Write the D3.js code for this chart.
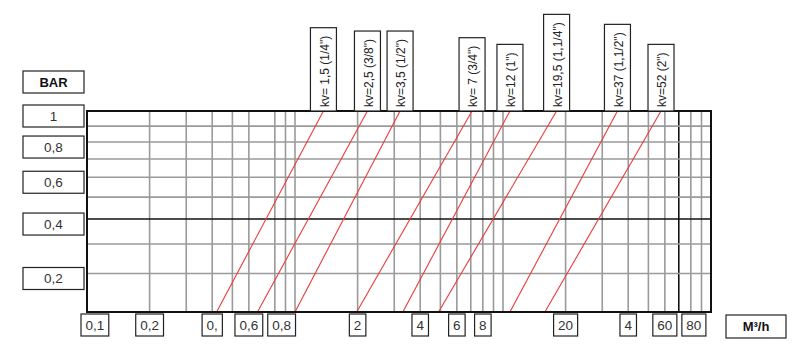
<!DOCTYPE html>
<html>
<head>
<meta charset="utf-8">
<script src="https://cdn.jsdelivr.net/npm/d3@7"></script>
<style>
  html, body { margin: 0; padding: 0; background: #fff; }
  svg { display: block; font-family: Arial, "Liberation Sans", sans-serif; }
  .grid { stroke: #9a9a9a; stroke-width: 1.6; }
  .grid-dark { stroke: #111; stroke-width: 1.6; }
  .box { fill: #fff; stroke: #222; stroke-width: 1.2; }
  .tick-lbl { font-size: 13.5px; fill: #333; }
  .kv-lbl { font-size: 12px; fill: #222; }
</style>
</head>
<body>
<svg id="chart" width="800" height="356"></svg>
<script>
// ── Data ──────────────────────────────────────────────────────────────
// flow (m3/h) grid values and the darker one
const xGrid     = [0.2, 0.3, 0.4, 0.5, 0.6, 0.8, 0.9, 1, 2, 3, 4, 5, 6, 7, 8, 9, 10,
                   20, 30, 40, 50, 60, 70, 80, 90];
const xGridDark = [70];
const xTicks    = [0.1, 0.2, 0.4, 0.6, 0.8, 2, 4, 6, 8, 20, 40, 60, 80];
const xTickText = ["0,1", "0,2", "0,", "0,6", "0,8", "2", "4", "6", "8", "20", "4", "60", "80"];

// pressure drop (bar)
const yGrid     = [0.2, 0.3, 0.4, 0.5, 0.6, 0.7, 0.8, 0.9];
const yGridDark = [0.4];
const yTicks    = [1, 0.8, 0.6, 0.4, 0.2];
const yTickText = ["1", "0,8", "0,6", "0,4", "0,2"];

// kv lines: flow read at 0.1 bar (bottom) and at 1 bar (top)
const kvLabels = ['kv= 1,5 (1/4")', 'kv=2,5 (3/8")', 'kv=3,5 (1/2")', 'kv= 7 (3/4")',
                  'kv=12 (1")', 'kv=19,5 (1,1/4")', 'kv=37 (1,1/2")', 'kv=52 (2")'];
const qAtLow   = [0.42, 0.66, 1.0, 1.98, 3.3, 4.9, 10.8, 15.9];
const qAtHigh  = [1.37, 2.23, 3.2, 7.1, 10.8, 18.1, 35.5, 57.5];

// ── Chart ─────────────────────────────────────────────────────────────
const svg = d3.select("#chart");
const L = 87, R = 711, T = 111, B = 312;

const x = d3.scaleLog().domain([0.1, 100]).range([L, R]);
const y = d3.scalePow().exponent(0.5).domain([0.1, 1]).range([B, T]);

const g = svg.append("g");

// grid
g.selectAll("line.vg").data(xGrid).join("line")
  .attr("class", d => xGridDark.includes(d) ? "grid-dark" : "grid")
  .attr("x1", d => x(d)).attr("x2", d => x(d))
  .attr("y1", T).attr("y2", B);
g.selectAll("line.hg").data(yGrid).join("line")
  .attr("class", d => yGridDark.includes(d) ? "grid-dark" : "grid")
  .attr("x1", L).attr("x2", R)
  .attr("y1", d => y(d)).attr("y2", d => y(d));

// kv lines
const kv = kvLabels.map((lbl, i) => ({ lbl, lo: qAtLow[i], hi: qAtHigh[i] }));
const line = d3.line().x(d => x(d[0])).y(d => y(d[1]));
g.selectAll("path.kv").data(kv).join("path")
  .attr("fill", "none").attr("stroke", "#ea3b3b").attr("stroke-width", 1.1)
  .attr("d", d => line([[d.lo, 0.1], [d.hi, 1]]));

// frame
g.append("rect").attr("x", L).attr("y", T).attr("width", R - L).attr("height", B - T)
  .attr("fill", "none").attr("stroke", "#111").attr("stroke-width", 2);

// kv label boxes above the frame
kv.forEach(d => {
  const cx = x(d.hi);
  const bg = svg.append("g");
  const rect = bg.append("rect").attr("class", "box");
  const t = bg.append("text").attr("class", "kv-lbl")
    .attr("transform", `translate(${cx + 1},${T - 4}) rotate(-90)`)
    .attr("dy", "0.35em").text(d.lbl);
  const h = t.node().getComputedTextLength() + 12;
  rect.attr("x", cx - 13).attr("y", T - h).attr("width", 26).attr("height", h);
});

// y tick boxes
svg.append("rect").attr("class", "box").attr("x", 23).attr("y", 71).attr("width", 61).attr("height", 22);
svg.append("text").attr("x", 53.5).attr("y", 82).attr("dy", "0.35em")
  .attr("text-anchor", "middle").attr("font-size", "13px").attr("font-weight", "bold")
  .attr("fill", "#111").text("BAR");

yTicks.forEach((v, i) => {
  const cy = y(v) + 5;
  svg.append("rect").attr("class", "box").attr("x", 23).attr("y", cy - 11)
    .attr("width", 61).attr("height", 22);
  svg.append("text").attr("class", "tick-lbl").attr("x", 53.5).attr("y", cy)
    .attr("dy", "0.35em").attr("text-anchor", "middle").text(yTickText[i]);
});

// x tick boxes (pushed right when they would overlap the previous one)
let prevRight = 0;
xTicks.forEach((v, i) => {
  const t = svg.append("text").attr("class", "tick-lbl")
    .attr("y", 325).attr("dy", "0.35em").attr("text-anchor", "middle").text(xTickText[i]);
  const w = t.node().getComputedTextLength() + 9;
  const bx = Math.max(x(v) - w / 2, 81, prevRight + 5);
  prevRight = bx + w;
  t.attr("x", bx + w / 2);
  svg.insert("rect", "text.tick-lbl").attr("class", "box")
    .attr("x", bx).attr("y", 314).attr("width", w).attr("height", 22);
});

// unit box
svg.append("rect").attr("class", "box").attr("x", 726).attr("y", 315).attr("width", 60).attr("height", 23);
svg.append("text").attr("x", 756).attr("y", 326.5).attr("dy", "0.35em")
  .attr("text-anchor", "middle").attr("font-size", "13px").attr("font-weight", "bold")
  .attr("fill", "#111").text("M³/h");
</script>
</body>
</html>
